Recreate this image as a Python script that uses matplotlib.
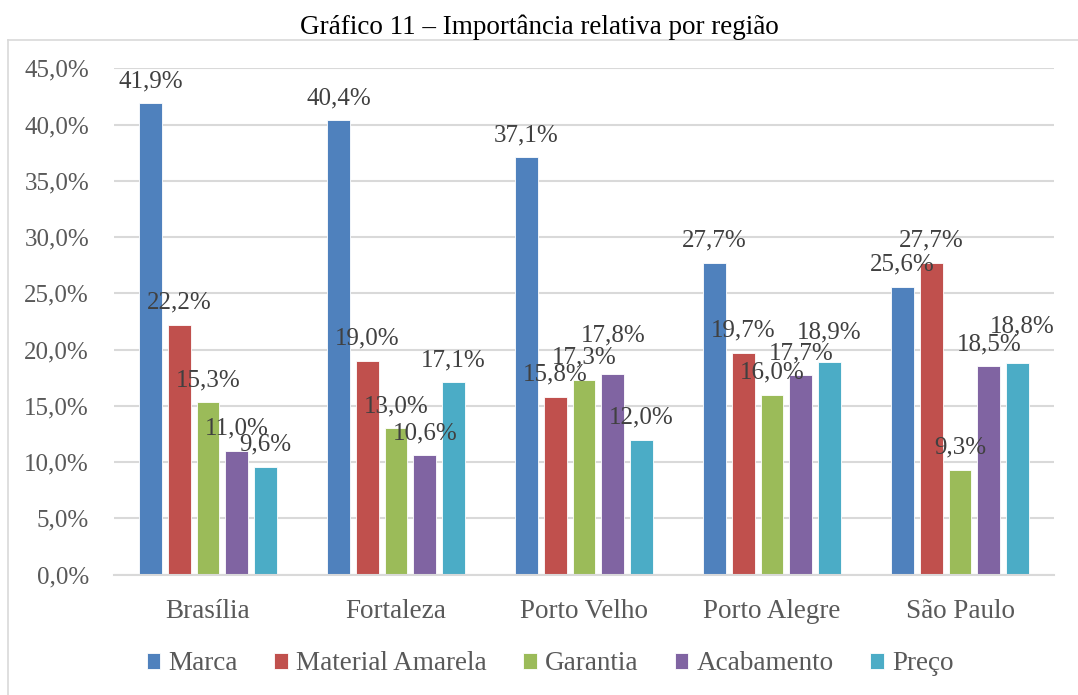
import matplotlib.pyplot as plt
from matplotlib.lines import Line2D
import numpy as np

regioes = ['Brasília', 'Fortaleza', 'Porto Velho', 'Porto Alegre', 'São Paulo']
series = ['Marca', 'Material Amarela', 'Garantia', 'Acabamento', 'Preço']
marca = [41.9, 40.4, 37.1, 27.7, 25.6]
material = [22.2, 19.0, 15.8, 19.7, 27.7]
garantia = [15.3, 13.0, 17.3, 16.0, 9.3]
acabamento = [11.0, 10.6, 17.8, 17.7, 18.5]
preco = [9.6, 17.1, 12.0, 18.9, 18.8]
cores = ['#4F81BD', '#C0504D', '#9BBB59', '#8064A2', '#4BACC6']

valores = [marca, material, garantia, acabamento, preco]

# rótulos que foram deslocados à mão no original (pixels: dx, dy para cima)
ajustes = {(2, 3): (0, 17), (3, 4): (0, 7), (4, 4): (5, 15)}

fonte = 'Liberation Serif'
W, H = 1078, 695
fig = plt.figure(figsize=(W / 100, H / 100), dpi=100)
ax = fig.add_axes([114 / W, 1 - 574.5 / H, 940 / W, (574.5 - 68.3) / H])

x = np.arange(len(regioes))
passo = 0.153
largura = 0.12
px = 72 / 100
for i, (nome, vals) in enumerate(zip(series, valores)):
    pos = x + (i - 2) * passo
    ax.bar(pos, vals, width=largura, color=cores[i], edgecolor='white',
           linewidth=0.6, label=nome, zorder=2)
    for j, (xp, v) in enumerate(zip(pos, vals)):
        dx, dy = ajustes.get((j, i), (0, 0))
        ax.annotate(f'{v:.1f}%'.replace('.', ','), (xp, v),
                    xytext=(dx * px, (16 + dy) * px),
                    textcoords='offset points', ha='center', va='baseline',
                    fontsize=18, color='#404040', family=fonte, zorder=3)

ax.set_xlim(-0.5, len(regioes) - 0.5)
ax.set_ylim(0, 45)
ticks = np.arange(0, 46, 5)
ax.set_yticks(ticks)
ax.set_yticklabels([f'{t:.1f}%'.replace('.', ',') for t in ticks])
ax.set_xticks(x)
ax.set_xticklabels(regioes)
ax.tick_params(length=0, labelcolor='#595959')
ax.tick_params(axis='x', labelsize=19.5, pad=18)
ax.tick_params(axis='y', labelsize=18, pad=18)
for lab in ax.get_xticklabels() + ax.get_yticklabels():
    lab.set_family(fonte)
ax.grid(axis='y', color='#D9D9D9', linewidth=1.5, zorder=0)
for s in ['top', 'right', 'left']:
    ax.spines[s].set_visible(False)
ax.spines['bottom'].set_color('#D9D9D9')
ax.spines['bottom'].set_linewidth(1.5)

# moldura do gráfico
fig.add_artist(Line2D([8 / W, 1.0], [1 - 40 / H, 1 - 40 / H],
                      color='#D9D9D9', linewidth=1.2, transform=fig.transFigure))
fig.add_artist(Line2D([8 / W, 8 / W], [1 - 40 / H, 0],
                      color='#D9D9D9', linewidth=1.2, transform=fig.transFigure))

fig.text(539 / W, 1 - 27 / H, 'Gráfico 11 – Importância relativa por região',
         ha='center', va='center', fontsize=19.5, family=fonte, color='black')

fig.legend(loc='center', bbox_to_anchor=(550 / W, 1 - 664 / H), ncol=5,
           frameon=False, prop={'family': fonte, 'size': 19.5},
           labelcolor='#595959', handlelength=0.5, handleheight=0.5,
           handletextpad=0.3, columnspacing=1.35)

fig.savefig('out.png', dpi=100)
